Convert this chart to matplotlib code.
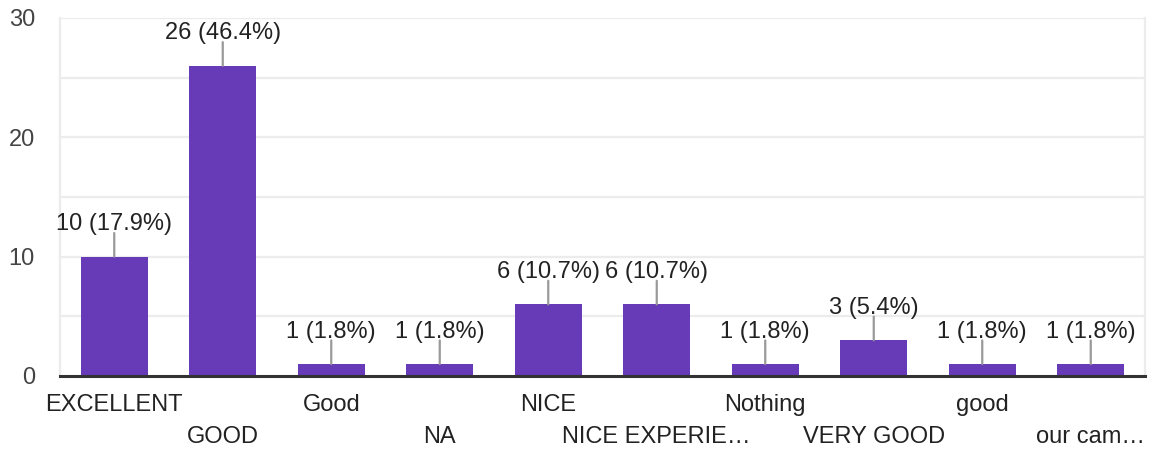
import matplotlib
matplotlib.use("Agg")
import matplotlib.pyplot as plt
from matplotlib.transforms import blended_transform_factory, offset_copy

categories = ["EXCELLENT", "GOOD", "Good", "NA", "NICE", "NICE EXPERIE…",
              "Nothing", "VERY GOOD", "good", "our cam…"]
counts = [10, 26, 1, 1, 6, 6, 1, 3, 1, 1]
labels = ["10 (17.9%)", "26 (46.4%)", "1 (1.8%)", "1 (1.8%)", "6 (10.7%)",
          "6 (10.7%)", "1 (1.8%)", "3 (5.4%)", "1 (1.8%)", "1 (1.8%)"]
yticks = [0, 10, 20, 30]

plt.rcParams['font.family'] = ['Liberation Sans', 'DejaVu Sans']

W, H = 1149, 455
fig = plt.figure(figsize=(W / 100, H / 100), dpi=100)
ax = fig.add_axes([60 / W, 1 - 376 / H, 1085 / W, 358 / H])

x = list(range(len(categories)))
bar_color = "#673ab7"
ax.bar(x, counts, width=0.62, color=bar_color, zorder=3)

ax.set_xlim(-0.5, len(categories) - 0.5)
ax.set_ylim(0, 30)

# gridlines
for v in [5, 10, 15, 20, 25, 30]:
    ax.axhline(v, color="#ececec", lw=1.6, zorder=1)

for s in ["left", "right", "top"]:
    ax.spines[s].set_color("#ececec")
    ax.spines[s].set_linewidth(1.6)
ax.spines["top"].set_visible(False)
ax.spines["bottom"].set_color("#333333")
ax.spines["bottom"].set_linewidth(2.2)
ax.spines["bottom"].set_zorder(4)

ax.set_yticks(yticks)
ax.set_yticklabels([str(v) for v in yticks], fontsize=17, color="#444444")
ax.tick_params(axis="y", length=0, pad=18)
ax.set_xticks([])

# value labels with leader lines
for xi, c, lab in zip(x, counts, labels):
    ax.annotate("", xy=(xi, c), xytext=(0, 17), textcoords="offset points",
                arrowprops=dict(arrowstyle="-", color="#999999", lw=1.6,
                                shrinkA=0, shrinkB=0), zorder=4)
    ax.annotate(lab, xy=(xi, c), xytext=(0, 15.5), textcoords="offset points",
                ha="center", va="bottom", fontsize=17, color="#222222", zorder=5)

# staggered category labels
trans = blended_transform_factory(ax.transData, ax.transAxes)
for xi, cat in zip(x, categories):
    dy = -29 if xi % 2 == 0 else -61
    t = offset_copy(trans, fig=fig, x=0, y=dy * 0.72, units="points")
    ax.text(xi, 0, cat, transform=t, ha="center", va="center",
            fontsize=17, color="#222222")

fig.savefig("out.png", dpi=100)
